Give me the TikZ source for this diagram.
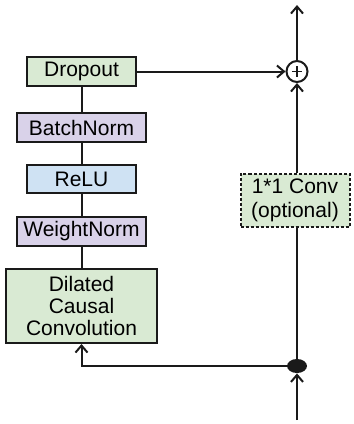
\documentclass[tikz,border=0pt]{standalone}
\usepackage{fontspec}
\setmainfont{Liberation Sans}
\usetikzlibrary{arrows.meta,shapes.geometric}
\definecolor{boxgreen}{HTML}{D9EAD3}
\definecolor{boxpurple}{HTML}{D9D2E9}
\definecolor{boxblue}{HTML}{CFE2F3}
\definecolor{edge}{HTML}{1A1A1A}
\tikzset{
  layer/.style={draw=edge, line width=1pt, inner sep=0pt, align=center,
    font=\fontsize{10.5}{11}\selectfont},
  wire/.style={draw=edge, line width=1pt},
  arr/.style={wire, -{Straight Barb[length=3.5pt,width=6pt,line width=1pt]}},
}
\begin{document}
\begin{tikzpicture}[x=0.5pt,y=-0.5pt]
  \useasboundingbox (0,0) rectangle (354,424);
  \fill[white] (0,0) rectangle (354,424);

  % main branch
  \node[layer, fill=boxgreen, minimum width=54.5pt, minimum height=14.5pt] (drop) at (81.5,71.5) {Dropout};
  \node[layer, fill=boxpurple, minimum width=64.5pt, minimum height=14.5pt] (bn) at (81.5,127.5) {BatchNorm};
  \node[layer, fill=boxblue, minimum width=54.5pt, minimum height=14pt] (relu) at (81.5,179) {ReLU};
  \node[layer, fill=boxpurple, minimum width=64.5pt, minimum height=14.5pt] (wn) at (81.5,231.5) {WeightNorm};
  \node[layer, fill=boxgreen, minimum width=75.5pt, minimum height=37pt] (dil) at (81.5,306) {Dilated\\Causal\\Convolution};

  % residual branch
  \node[layer, fill=boxgreen, dash pattern=on 1.5pt off 1pt, minimum width=54.5pt, minimum height=26.5pt,
        font=\fontsize{10.5}{12}\selectfont] (conv) at (295,200.5) {1*1 Conv\\(optional)};
  \node[ellipse, fill=edge, inner sep=0pt, minimum width=10pt, minimum height=7pt] (split) at (297,366) {};
  \node[circle, draw=edge, line width=1pt, fill=white, inner sep=0pt, minimum size=10.5pt] (sum) at (297,71.5) {};
  \draw[wire, line width=0.9pt] ([xshift=-2.6pt]sum.center) -- ([xshift=2.6pt]sum.center)
        ([yshift=-2.6pt]sum.center) -- ([yshift=2.6pt]sum.center);

  \coordinate (in) at (297,420);
  \coordinate (out) at (297,5);
  \coordinate (turn) at (81.5,366);

  \draw[wire] (drop) -- (bn);
  \draw[wire] (bn) -- (relu);
  \draw[wire] (relu) -- (wn);
  \draw[wire] (wn) -- (dil);

  \draw[arr] (in) -- (split.south);
  \draw[arr] (split.west) -- (turn) -- (dil.south);
  \draw[wire] (split.north) -- (conv.south -| split.north);
  \draw[arr] (conv.north -| sum.south) -- (sum.south);
  \draw[arr] (drop.east) -- (sum.west);
  \draw[arr] (sum.north) -- (out);
\end{tikzpicture}
\end{document}
